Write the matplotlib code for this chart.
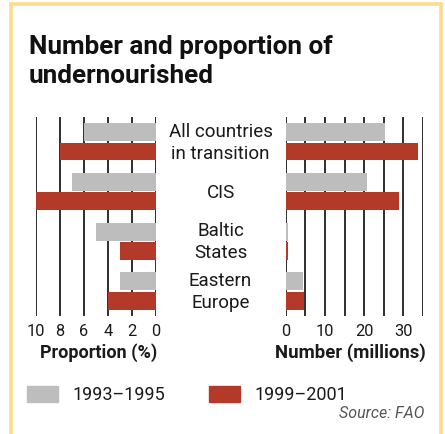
import matplotlib
matplotlib.use("Agg")
import matplotlib.pyplot as plt
import matplotlib.transforms as mtransforms
from matplotlib.patches import Rectangle
import numpy as np

plt.rcParams['font.family'] = ['Roboto', 'DejaVu Sans']

regions = ["All countries\nin transition", "CIS", "Baltic\nStates", "Eastern\nEurope"]
periods = ["1993\u20131995", "1999\u20132001"]
prop_93 = [6, 7, 5, 3]
prop_99 = [8, 10, 3, 4]
num_93 = [25.3, 20.7, 0.6, 4.4]
num_99 = [33.7, 28.9, 0.6, 4.6]

GREY = '#bdbdbd'
RED = '#b33a28'
GRID = '#1e1e1e'
FRAME = '#fddc8c'

W, H = 445, 435
fig = plt.figure(figsize=(W / 100, H / 100), dpi=100)


def box(x0, x1, y0, y1):
    # pixel box (top-left origin) -> figure fraction rect
    return [x0 / W, 1 - y1 / H, (x1 - x0) / W, (y1 - y0) / H]


ax1 = fig.add_axes(box(36, 155.7, 118, 316.8))
ax2 = fig.add_axes(box(285.7, 423, 118, 316.8))

pos = np.arange(len(regions))
h = 0.36
off = 0.195

ax1.barh(pos - off, prop_93, height=h, color=GREY, zorder=3)
ax1.barh(pos + off, prop_99, height=h, color=RED, zorder=3)
ax1.set_xlim(10, 0)
ax1.set_xticks(np.arange(0, 11, 2))

ax2.barh(pos - off, num_93, height=h, color=GREY, zorder=3)
ax2.barh(pos + off, num_99, height=h, color=RED, zorder=3)
ax2.set_xlim(0, 35)
ax2.set_xticks([0, 10, 20, 30])
ax2.set_xticks([5, 15, 25, 35], minor=True)

for ax in (ax1, ax2):
    ax.set_ylim(3.5, -0.5)
    ax.set_yticks([])
    for s in ax.spines.values():
        s.set_visible(False)
    ax.set_facecolor('none')
    for v in list(ax.get_xticks()) + list(ax.get_xticks(minor=True)):
        ax.axvline(v, color=GRID, lw=1.3, zorder=1)
    ax.tick_params(axis='x', which='both', length=0, pad=5, labelsize=11.8,
                   labelcolor='#1a1a1a')

# region labels between the two panels
trans = mtransforms.blended_transform_factory(fig.transFigure, ax2.transData)
for p, name in zip(pos, regions):
    fig.text(220.5 / W, p, name, transform=trans, ha='center', va='center',
             fontsize=13.5, color='#1a1a1a', linespacing=1.3)

fig.text(29 / W, 1 - 83 / H, "Number and proportion of\nundernourished",
         ha='left', va='baseline', fontsize=18.8, fontweight='bold',
         color='#111111', linespacing=1.27)

fig.text(157 / W, 1 - 353 / H, "Proportion (%)", ha='right', va='center',
         fontsize=13, fontweight='bold', color='#1a1a1a')
fig.text(426 / W, 1 - 353 / H, "Number (millions)", ha='right', va='center',
         fontsize=13.3, fontweight='bold', color='#1a1a1a')

# legend
for x0, col, lab in [(27, GREY, periods[0]), (209, RED, periods[1])]:
    fig.patches.append(Rectangle((x0 / W, 1 - 402.5 / H), 30.5 / W, 16 / H,
                                 transform=fig.transFigure, color=col))
    fig.text((x0 + 45) / W, 1 - 395 / H, lab, ha='left', va='center',
             fontsize=13, color='#1a1a1a')

fig.text(424 / W, 1 - 414 / H, "Source: FAO", ha='right', va='center',
         fontsize=11.5, style='italic', color='#555555')

# frame
for xs, ys in [([11, 11], [435, 5]), ([11, 441], [5, 5]), ([441, 441], [5, 435])]:
    fig.add_artist(plt.Line2D([x / W for x in xs], [1 - y / H for y in ys],
                              transform=fig.transFigure, color=FRAME, lw=2.6))

fig.savefig("out.png", dpi=100, facecolor='white')

# quick sanity check that grid lines show in the gaps between groups
img = plt.imread("out.png")
bad = {}
for r in (167, 218, 266):
    for c in (108, 132, 155, 305, 345, 383):
        v = img[r, c - 2:c + 3, 0].min()
        if v > 0.5:
            bad[(r, c)] = round(float(v), 2)
if bad:
    raise SystemExit("missing grid: " + str(bad))
